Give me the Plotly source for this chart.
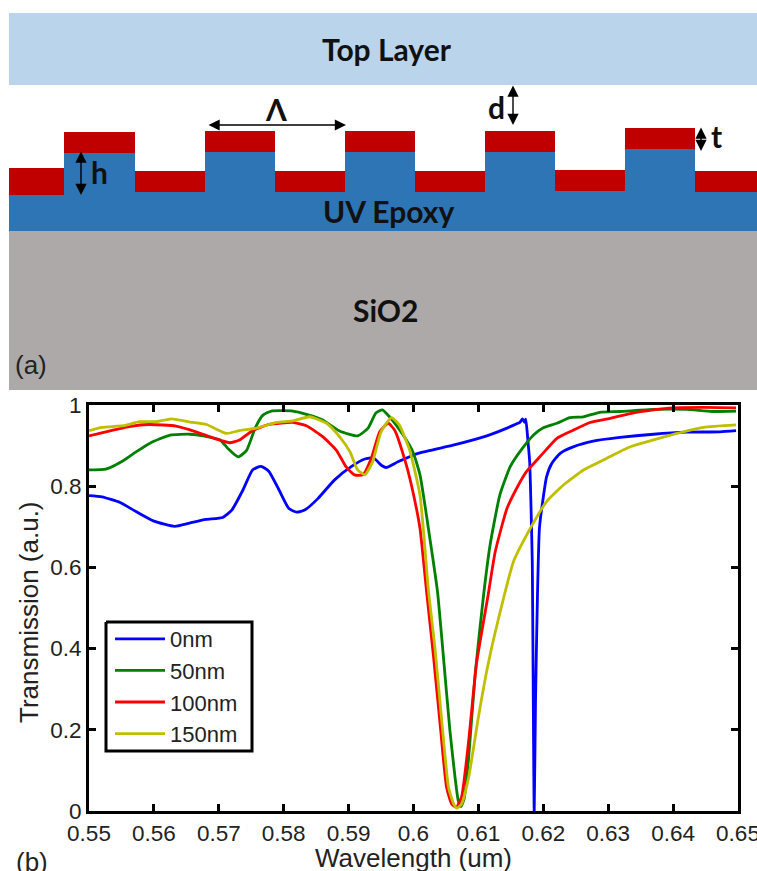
import plotly.graph_objects as go

# ---------- panel (b) data ----------
blue_x = [.55,.552,.5548,.5573,.56,.5632,.5655,.568,.5706,.572,.5737,.5752,.5765,.5777,.5793,.5808,.582,.5833,.5853,.5878,.5904,.5925,.5938,.5951,.5958,.5976,.6007,.6061,.6113,.6144,.6155,.6164,.6168,.6171,.6173,.6176,.6179,.6181,.6183,.6186,.6188,.6191,.6194,.6199,.6205,.6213,.6226,.6246,.6277,.6318,.637,.6421,.6472,.6497]
blue_y = [.777,.774,.76,.737,.714,.701,.709,.718,.723,.741,.79,.84,.849,.837,.79,.745,.736,.742,.77,.815,.848,.867,.87,.851,.846,.86,.881,.901,.924,.943,.951,.957,.966,.957,.965,.918,.86,.754,.614,0,.27,.53,.696,.762,.823,.856,.881,.897,.911,.92,.928,.933,.934,.937]
green_x = [.55,.5526,.5552,.5573,.5594,.5625,.5656,.5676,.5702,.5714,.573,.5743,.5756,.5768,.5781,.5814,.5835,.586,.5886,.5914,.593,.5942,.5952,.5963,.5984,.5999,.601,.6026,.6037,.6045,.6056,.6064,.6069,.6073,.6078,.6085,.6095,.6108,.6118,.6133,.6149,.6164,.6185,.62,.6221,.6241,.6262,.6287,.6318,.637,.642,.646,.6497]
green_y = [.84,.842,.862,.885,.906,.926,.928,.924,.914,.893,.872,.889,.943,.975,.985,.985,.977,.963,.936,.924,.943,.98,.988,.971,.926,.885,.828,.663,.54,.4,.2,.083,.025,.011,.03,.132,.337,.532,.655,.778,.848,.885,.926,.944,.955,.969,.971,.982,.984,.989,.989,.984,.985]
red_x = [.55,.5526,.5562,.5593,.5634,.5665,.5696,.5717,.5732,.5753,.5778,.5814,.5835,.586,.5881,.5896,.5909,.5922,.5935,.5948,.5961,.5971,.5989,.5999,.601,.602,.6031,.6041,.6051,.6059,.6066,.6074,.6085,.6097,.6115,.6126,.6144,.6159,.6174,.6195,.6221,.6246,.6272,.6303,.6334,.637,.64,.6447,.6497]
red_y = [.924,.934,.947,.952,.948,.934,.916,.907,.914,.938,.952,.957,.949,.922,.889,.848,.828,.828,.869,.934,.955,.938,.852,.787,.696,.543,.378,.214,.058,.017,.009,.034,.173,.362,.532,.639,.745,.795,.836,.873,.918,.938,.957,.967,.979,.988,.993,.994,.993]
yellow_x = [.55,.552,.5553,.5578,.5604,.5627,.566,.5681,.5712,.5732,.5758,.5789,.5814,.584,.5866,.5886,.5902,.5914,.5925,.5937,.595,.5966,.5978,.5994,.601,.6023,.6033,.6044,.6054,.6062,.6067,.6074,.6085,.61,.6115,.614,.6154,.618,.6205,.6231,.6262,.6298,.6334,.637,.6406,.6447,.6497]
yellow_y = [.937,.945,.949,.959,.959,.966,.957,.952,.93,.937,.943,.957,.961,.971,.955,.922,.885,.84,.828,.86,.934,.969,.951,.889,.778,.543,.403,.214,.058,.017,.007,.017,.083,.231,.362,.532,.614,.696,.762,.803,.84,.869,.897,.914,.93,.945,.951]

series_names = ["0nm", "50nm", "100nm", "150nm"]
series_colors = ["#0000FF", "#007F00", "#FF0000", "#BFBF00"]
x_ticks = [.55,.56,.57,.58,.59,.6,.61,.62,.63,.64,.65]
x_tick_labels = ["0.55","0.56","0.57","0.58","0.59","0.6","0.61","0.62","0.63","0.64","0.65"]
y_ticks = [0,.2,.4,.6,.8,1]
y_tick_labels = ["0","0.2","0.4","0.6","0.8","1"]

# ---------- panel (a) layers: x0, x1, top, bottom (schematic units) ----------
top_layer = [9, 757, 13, 85]
substrate = [9, 757, 231, 390]
epoxy_base = [9, 757, 185, 231]
epoxy_ridges = [[64,135,153,195],[205,275,152,195],[345,415,152,195],[485,555,152,195],[625,695,149,195]]
metal_low = [[9,64,168,195],[135,205,171,192],[275,345,171,192],[415,485,171,192],[555,625,170,191],[695,757,171,192]]
metal_high = [[64,135,132,153],[205,275,131,152],[345,415,131,152],[485,555,131,152],[625,695,128,149]]
arrows = [[207,125,346,125],[81,150,81,195],[513,84,513,125],[701,126,701,151]]
labels_bold = [["Top Layer",387,49],["UV Epoxy",388,211],["SiO2",385,310],["Λ",276,109],["h",99,172],["d",496,107],["t",716,136]]
labels_plain = [["(a)",31,365],["(b)",32,862]]
axis_titles = [["Wavelength (um)",413,858,0],["Transmission (a.u.)",29,612,-90]]
legend_frame = [106, 252, 622, 751]

W, H = 757, 871
fig = go.Figure()

def rect_trace(rects, color):
    xs, ys = [], []
    for x0, x1, t, b in rects:
        xs += [x0, x1, x1, x0, x0, None]
        ys += [t, t, b, b, t, None]
    fig.add_trace(go.Scatter(x=xs, y=ys, xaxis="x2", yaxis="y2", mode="lines", fill="toself",
                             fillcolor=color, line=dict(width=0), showlegend=False, hoverinfo="skip"))

rect_trace([top_layer], "#BAD4EC")
rect_trace([substrate], "#ADA9A9")
rect_trace([epoxy_base], "#2E75B6")
rect_trace(epoxy_ridges, "#2E75B6")
rect_trace(metal_low + metal_high, "#C00000")

x0, x1, t, b = legend_frame
fig.add_trace(go.Scatter(x=[x0, x1, x1, x0, x0], y=[t, t, b, b, t], xaxis="x2", yaxis="y2", mode="lines",
                         line=dict(color="#000", width=3), showlegend=False, hoverinfo="skip"))

for name, color, xs, ys in zip(series_names, series_colors,
                               [blue_x, green_x, red_x, yellow_x],
                               [blue_y, green_y, red_y, yellow_y]):
    fig.add_trace(go.Scatter(x=xs, y=ys, mode="lines", name=name,
                             line=dict(color=color, width=2.8, shape="spline", smoothing=0.5)))

annotations = []
for ax0, ay0, ax1, ay1 in arrows:
    annotations.append(dict(x=ax1, y=ay1, ax=ax0, ay=ay0, xref="x2", yref="y2", axref="x2", ayref="y2",
                            text="", showarrow=True, arrowhead=2, arrowside="end+start", arrowsize=1.6,
                            arrowwidth=1.4, arrowcolor="#000", standoff=0, startstandoff=0))
for txt, x, y in labels_bold:
    annotations.append(dict(x=x, y=y, xref="x2", yref="y2", text="<b>%s</b>" % txt, showarrow=False,
                            font=dict(family="Lato", size=30, color="#111")))
for txt, x, y in labels_plain:
    annotations.append(dict(x=x, y=y, xref="x2", yref="y2", text=txt, showarrow=False,
                            font=dict(family="Liberation Sans", size=26, color="#222")))
for txt, x, y, rot in axis_titles:
    annotations.append(dict(x=x, y=y, xref="x2", yref="y2", text=txt, showarrow=False, textangle=rot,
                            font=dict(family="Liberation Sans", size=26, color="#222")))

axis_common = dict(showgrid=False, zeroline=False, showline=True, mirror="allticks", linecolor="#000",
                   linewidth=3, ticks="inside", ticklen=7, tickwidth=2.5, tickcolor="#000", automargin=False,
                   ticklabeloverflow="allow",
                   tickfont=dict(family="Liberation Sans", size=22.5, color="#222"))
fig.update_layout(
    width=W, height=H, margin=dict(l=0, r=0, t=0, b=0), paper_bgcolor="white", plot_bgcolor="rgba(0,0,0,0)",
    font=dict(family="Liberation Sans"),
    xaxis=dict(domain=[89/W, 738/W], range=[.55,.65], tickvals=x_ticks, ticktext=x_tick_labels, **axis_common),
    yaxis=dict(domain=[(H-811)/H, (H-405)/H], range=[0,1], tickvals=y_ticks, ticktext=y_tick_labels, **axis_common),
    xaxis2=dict(domain=[0,1], range=[0,W], visible=False, anchor="y2", layer="below traces"),
    yaxis2=dict(domain=[0,1], range=[H,0], visible=False, anchor="x2"),
    annotations=annotations,
    legend=dict(x=110/W, y=1-618/H, xanchor="left", yanchor="top", bgcolor="rgba(0,0,0,0)", borderwidth=0,
                itemwidth=50, font=dict(family="Liberation Sans", size=22, color="#222"),
                traceorder="normal"),
)
fig.write_html("out.html", config=dict(displayModeBar=False),
               post_script="document.documentElement.style.overflow='hidden';document.body.style.margin='0';")
